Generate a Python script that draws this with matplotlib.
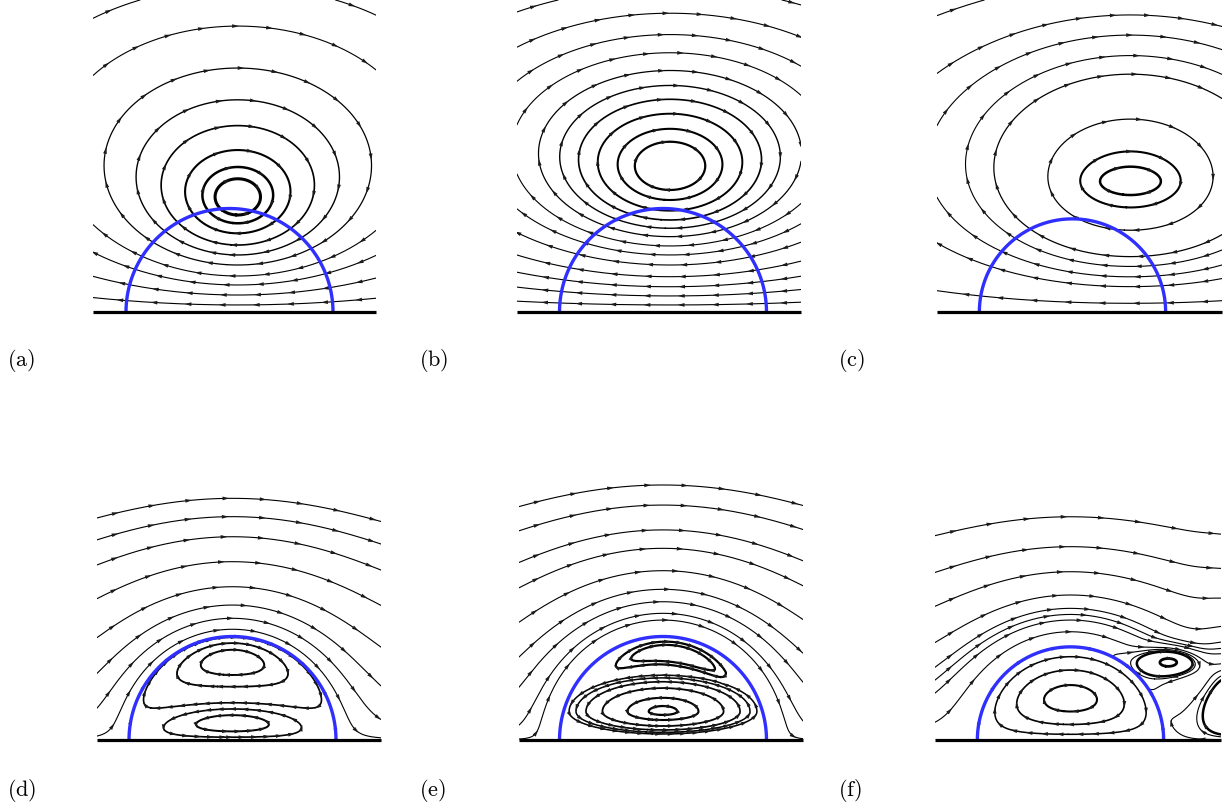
import numpy as np
import matplotlib
matplotlib.use('Agg')
import matplotlib.pyplot as plt
from matplotlib.collections import PolyCollection
import contourpy

plt.rcParams['mathtext.fontset'] = 'cm'

# lengths are in drop radii, the wall is y = 0
# each streamline is given by one point it passes through (seed)

# (a) vortex sitting just above the drop
a_vortex_x = [0.08]
a_vortex_y = 1.10
a_stretch = 1.25
a_shear = 0.05
a_seed_x = [0.08] * 10
a_seed_y = [0.937, 0.857, 0.760, 0.647, 0.551, 0.454, 0.348, 0.261, 0.164, 0.068]
a_seed_lw = [2.2, 1.8, 1.5, 1.2, 1.0, 0.9, 0.8, 0.8, 0.8, 0.8]

# (b) higher, flatter vortex
b_vortex_x = [0.068]
b_vortex_y = 1.40
b_stretch = 1.45
b_shear = 0.095
b_seed_x = [0.068] * 13
b_seed_y = [1.179, 1.082, 0.979, 0.889, 0.809, 0.728, 0.638, 0.551, 0.454,
            0.341, 0.244, 0.155, 0.068]
b_seed_lw = [1.6, 1.5, 1.4, 1.2, 1.0, 0.9, 0.8, 0.8, 0.8, 0.8, 0.8, 0.8, 0.8]

# (c) elongated vortex shifted downstream, smaller drop
c_drop = 0.9
c_vortex_x = [0.11, 0.22, 0.335, 0.45, 0.56, 0.67, 0.785, 0.90, 1.01]
c_vortex_y = 1.25
c_stretch = 1.2
c_shear = 0.133
c_core = 0.15
c_seed_x = [0.56] * 8
c_seed_y = [1.13, 1.01, 0.79, 0.535, 0.44, 0.34, 0.245, 0.084]
c_seed_lw = [1.8, 1.5, 0.9, 0.9, 0.8, 0.8, 0.8, 0.8]

# (d) shear flow over the drop, two stacked cells inside
d_power = 2.8
d_split = 0.33
d_seed_x = [0.0] * 13
d_seed_y = [2.335, 2.158, 1.964, 1.723, 1.481, 1.304, 1.176, 1.07,
            0.628, 0.515, 0.36, 0.30, 0.24]
d_seed_lw = [0.8] * 8 + [1.4, 1.3, 1.2, 1.2, 1.4]

# (e) outer flow held off the drop, thin upper cell and large lower cell
e_power = 2.5
e_outer_radius = 1.13
e_low_cell = [0.275, 1.15, 0.275, 0.445]  # centre height, half width, depth, rise
e_top_cell = [0.84, 1.44, 0.12, 0.75]     # radius, angle, radial and angular half size
e_seed_x = [0.0] * 17
e_seed_y = [2.464, 2.27, 2.03, 1.852, 1.636, 1.456, 1.336, 1.224, 1.159,
            0.95, 0.918, 0.242, 0.193, 0.135, 0.097, 0.074, 0.058]
e_seed_lw = [0.8] * 9 + [1.6, 1.6, 1.6, 1.5, 1.3, 1.2, 1.1, 1.1]

# (f) smaller drop, one cell inside, eddy and separated region downstream
f_drop = 0.9
f_power = 2.5
f_wake = [1.74, 0.5, 1.6, 0.33]           # strength, decay height, centre x, width
f_eddy = [0.3, 0.993, 0.766, 0.28, 0.14]  # strength, x, y, width, height
f_cell = 0.84
f_seed_x = [0.0] * 7 + [1.40, 1.40, 1.22, 0.993, 1.17, 0.0, 0.0, 0.0]
f_seed_y = [2.157, 1.868, 1.626, 1.401, 1.272, 1.159, 1.046, 0.88, 0.645, 0.2,
            0.78, 0.766, 0.805, 0.676, 0.531]
f_seed_lw = [0.8] * 10 + [2.0, 1.8, 1.1, 1.2, 1.5]

labels = ['(a)', '(b)', '(c)', '(d)', '(e)', '(f)']


def vortex_row(X, Y, xs, y0, stretch, shear, core=0.0):
    psi = 0.5 * shear * Y ** 2
    a2 = core ** 2 + 1e-12
    for x0 in xs:
        dx2 = ((X - x0) / stretch) ** 2
        psi = psi + 0.5 / len(xs) * np.log((dx2 + (Y - y0) ** 2 + a2) /
                                           (dx2 + (Y + y0) ** 2 + a2))
    return psi


def around_drop(X, Y, R, p):
    rho2 = X ** 2 + Y ** 2 + 1e-12
    return Y * np.clip(1 - R ** 2 / rho2, 0, None) ** p


def two_cells(X, Y, R, c):
    F = Y * (1 - (X ** 2 + Y ** 2) / R ** 2)
    return -F * (Y - c * np.sqrt(np.clip(1 - X ** 2 / R ** 2, 0, None)))


def one_cell(X, Y, R, a):
    return -Y * (1 - (X ** 2 + Y ** 2) / R ** 2) * (1 - a * Y)


def d_shape(X, Y, yc, a, below, above):
    b = np.where(Y < yc, below, above)
    q = np.sqrt((X / a) ** 2 + ((Y - yc) / b) ** 2)
    return np.clip(1 - q, 0, None)


def arc_cell(X, Y, rc, tc, dr, dt):
    r = np.hypot(X, Y)
    t = np.arctan2(Y, X)
    q = np.sqrt(((r - rc) / dr) ** 2 + ((t - tc) / dt) ** 2)
    return np.clip(1 - q, 0, None)


def e_inner(X, Y):
    return d_shape(X, Y, *e_low_cell) - arc_cell(X, Y, *e_top_cell)


def f_outer(X, Y):
    C, lam, xw, sw = f_wake
    B, xv, yv, sx, sy = f_eddy
    psi = around_drop(X, Y, f_drop, f_power)
    psi = psi - C * Y * np.exp(-Y / lam) * np.exp(-((X - xw) / sw) ** 2)
    psi = psi - B * np.exp(-((X - xv) / sx) ** 2 - ((Y - yv) / sy) ** 2)
    return psi


panels = [
    dict(R=1.0, outer=lambda X, Y: vortex_row(X, Y, a_vortex_x, a_vortex_y, a_stretch, a_shear),
         inner=None, sx=a_seed_x, sy=a_seed_y, lw=a_seed_lw, gap=(0.33, 0.33), rim=False),
    dict(R=1.0, outer=lambda X, Y: vortex_row(X, Y, b_vortex_x, b_vortex_y, b_stretch, b_shear),
         inner=None, sx=b_seed_x, sy=b_seed_y, lw=b_seed_lw, gap=(0.33, 0.33), rim=False),
    dict(R=c_drop,
         outer=lambda X, Y: vortex_row(X, Y, c_vortex_x, c_vortex_y, c_stretch, c_shear, c_core),
         inner=None, sx=c_seed_x, sy=c_seed_y, lw=c_seed_lw, gap=(0.33, 0.33), rim=False),
    dict(R=1.0, outer=lambda X, Y: around_drop(X, Y, 1.0, d_power),
         inner=lambda X, Y: two_cells(X, Y, 1.0, d_split),
         sx=d_seed_x, sy=d_seed_y, lw=d_seed_lw, gap=(0.36, 0.12), rim=True),
    dict(R=1.0, outer=lambda X, Y: around_drop(X, Y, e_outer_radius, e_power),
         inner=e_inner,
         sx=e_seed_x, sy=e_seed_y, lw=e_seed_lw, gap=(0.36, 0.12), rim=False),
    dict(R=f_drop, outer=f_outer,
         inner=lambda X, Y: one_cell(X, Y, f_drop, f_cell),
         sx=f_seed_x, sy=f_seed_y, lw=f_seed_lw, gap=(0.36, 0.15), rim=True),
]

# page layout in pixels
W, H = 1231, 807
SCALE = 103.5
BOX_H = 312
left_px = [93, 517, 937, 97, 519, 935]
right_px = [376, 801, 1222, 381, 803, 1221]
centre_px = [229.5, 663, 1072.5, 232.5, 663, 1070.5]
wall_px = [312, 312, 312, 740, 740, 740]
label_px = [(7, 360), (419, 360), (838, 360), (7, 790), (419, 790), (838, 790)]

ARROW = 0.065


def arrow_tris(line, f, gap):
    d = np.diff(line, axis=0)
    seg = np.hypot(d[:, 0], d[:, 1])
    s = np.concatenate([[0], np.cumsum(seg)])
    total = s[-1]
    if total < 0.05:
        return []
    if total < gap:
        where = [total / 2]
    else:
        where = np.arange(gap / 2, total, gap)
    tris = []
    e = 1e-4
    for sp in where:
        i = min(max(np.searchsorted(s, sp) - 1, 0), len(seg) - 1)
        if seg[i] == 0:
            continue
        p = line[i] + (sp - s[i]) / seg[i] * d[i]
        t = d[i] / seg[i]
        u = f(p[0], p[1] + e) - f(p[0], p[1] - e)
        v = -(f(p[0] + e, p[1]) - f(p[0] - e, p[1]))
        if t[0] * u + t[1] * v < 0:
            t = -t
        n = np.array([-t[1], t[0]])
        tip = p + t * ARROW * 0.55
        back = p - t * ARROW * 0.45
        tris.append([tip, back + n * ARROW * 0.28, back - n * ARROW * 0.28])
    return tris


fig = plt.figure(figsize=(W / 100, H / 100), dpi=100)

for k, pan in enumerate(panels):
    x0 = (left_px[k] - centre_px[k]) / SCALE
    x1 = (right_px[k] - centre_px[k]) / SCALE
    y1 = BOX_H / SCALE
    ax = fig.add_axes([left_px[k] / W, 1 - wall_px[k] / H,
                       (right_px[k] - left_px[k]) / W, BOX_H / H])
    ax.set_xlim(x0, x1)
    ax.set_ylim(0, y1)
    ax.axis('off')

    R = pan['R']
    X, Y = np.meshgrid(np.linspace(x0, x1, 600), np.linspace(0, y1, 660))
    inside = X ** 2 + Y ** 2 < R ** 2
    outer, inner = pan['outer'], pan['inner']
    if inner is None:
        gens = {'out': contourpy.contour_generator(X, Y, outer(X, Y), line_type='Separate')}
    else:
        gens = {
            'out': contourpy.contour_generator(X, Y, np.ma.array(outer(X, Y), mask=inside),
                                               line_type='Separate'),
            'in': contourpy.contour_generator(X, Y, np.ma.array(inner(X, Y), mask=~inside),
                                              line_type='Separate'),
        }

    tris = []
    for sx, sy, lw in zip(pan['sx'], pan['sy'], pan['lw']):
        region = 'in' if (inner is not None and sx ** 2 + sy ** 2 < R ** 2) else 'out'
        f = inner if region == 'in' else outer
        gap = pan['gap'][1] if region == 'in' else pan['gap'][0]
        level = float(f(np.array(sx), np.array(sy)))
        for line in gens[region].lines(level):
            if len(line) < 3:
                continue
            ax.plot(line[:, 0], line[:, 1], color='k', lw=lw, solid_capstyle='round')
            tris += arrow_tris(line, f, gap)

    th = np.linspace(0, np.pi, 300)
    if pan['rim']:
        rim = np.column_stack([R * np.cos(th[::-1]), R * np.sin(th[::-1])])
        ax.plot(rim[:, 0], rim[:, 1], color='k', lw=1.2)
        tris += arrow_tris(rim, lambda x, y: outer(np.array(x) * 1.03, np.array(y) * 1.03),
                           pan['gap'][0])
    ax.add_collection(PolyCollection(tris, facecolors='#1a1a1a', edgecolors='none', zorder=3))
    ax.plot(R * np.cos(th), R * np.sin(th), color='#2f2fff', lw=2.4, zorder=4)
    ax.plot([x0, x1], [0, 0], color='k', lw=2.3, clip_on=False, zorder=5,
            solid_capstyle='butt')

    fig.text(label_px[k][0] / W, 1 - label_px[k][1] / H, r'$\mathrm{%s}$' % labels[k],
             fontsize=16, ha='left', va='center')

fig.savefig('out.png', dpi=100)
